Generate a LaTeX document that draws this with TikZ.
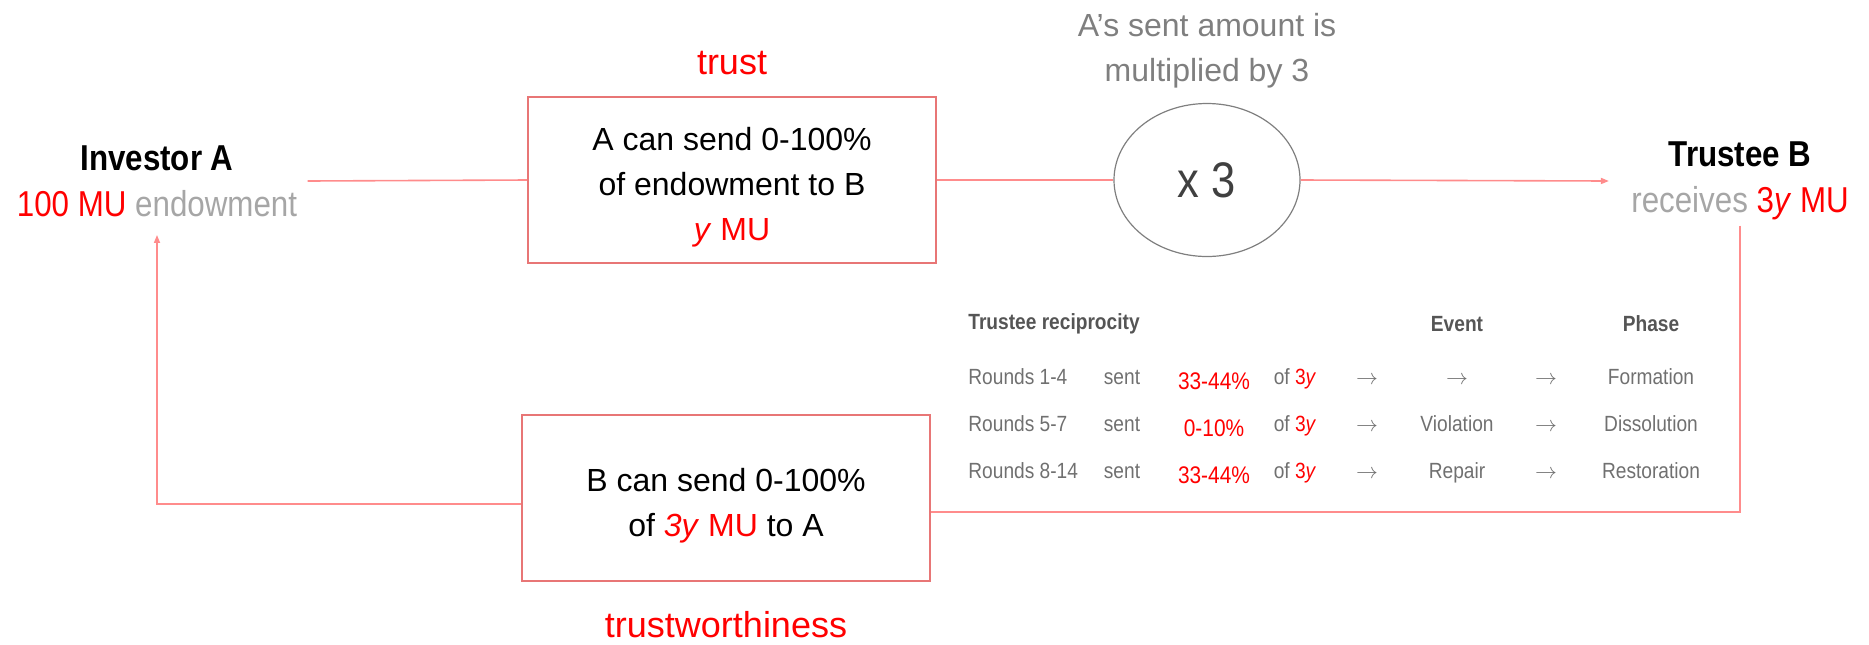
\documentclass[tikz,border=0pt]{standalone}
\usepackage{fontspec}
\setmainfont{Liberation Sans}
\newfontfamily\narrowsf{Liberation Sans}[FakeStretch=0.87]
\usetikzlibrary{positioning,shapes.geometric,arrows.meta}
\definecolor{linered}{RGB}{255,140,140}
\definecolor{boxred}{RGB}{232,118,118}
\definecolor{lightgrey}{RGB}{166,166,166}
\definecolor{midgrey}{RGB}{127,127,127}
\definecolor{tablegrey}{RGB}{112,112,112}
\definecolor{headgrey}{RGB}{85,85,85}
\definecolor{darkgrey}{RGB}{64,64,64}
\newcommand{\setfs}[2]{\fontsize{#1}{#2}\selectfont}
\newcommand{\tarrow}{$\rightarrow$}
\newcommand{\topgap}{\rule{0pt}{19pt}}

\begin{document}
\begin{tikzpicture}[x=0.5pt,y=-0.5pt,
						party/.style={align=center,font=\narrowsf\setfs{18}{23}},
						gamebox/.style={draw=boxred,line width=1pt,minimum width=204pt,minimum height=83pt,align=center,font=\setfs{16}{22.5}},
						mult/.style={ellipse,draw=midgrey,line width=0.6pt,minimum width=93pt,minimum height=76.5pt,inner sep=0pt,text=darkgrey,font=\narrowsf\setfs{25}{25}},
						redlabel/.style={inner sep=0pt,text=red,font=\setfs{18}{18}},
						note/.style={inner sep=0pt,align=center,text=midgrey,font=\setfs{16}{22.5}},
						tabhead/.style={inner sep=0pt,text=headgrey,font=\narrowsf\bfseries\setfs{11}{11}},
						tabcell/.style={inner sep=0pt,text height=8pt,text depth=2pt,text=tablegrey,font=\narrowsf\setfs{11}{11}},
						link/.style={draw=linered,line width=0.8pt}]
		\useasboundingbox (0,0) rectangle (1869,644);

		\node[party,inner xsep=5pt,inner ysep=9pt]		(invA)	at (157,181)	{\bfseries Investor A\\\textcolor{red}{100 MU} \textcolor{lightgrey}{endowment}};
		\node[party,inner xsep=11pt,inner ysep=2.5pt]	(trB)	at (1740,181)	{\bfseries Trustee B\\\textcolor{lightgrey}{receives} \textcolor{red}{3\textit{y} MU}};
		\node[gamebox]		(boxA)	at (732,180)	{\topgap A can send 0-100\%\\of endowment to B\\\textcolor{red}{\textit{y} MU}};
		\node[gamebox]		(boxB)	at (726,498)	{\topgap B can send 0-100\%\\of \textcolor{red}{\textit{3y} MU} to A};
		\node[mult]			(ell)	at (1207,180)	{x 3};
		\node[redlabel,above=10.5pt of boxA]	(trust)		{trust};
		\node[redlabel,below=14.5pt of boxB]	(worthy)	{trustworthiness};
		\node[note,above=7pt of ell]			(mulNote)	{A's sent amount is\\multiplied by 3};

		\node[tabhead,anchor=west]	(recHead)	at (968,324)	{Trustee reciprocity};
		\node[tabhead]				(evtHead)	at (1457,324)	{Event};
		\node[tabhead]				(phsHead)	at (1651,324)	{Phase};
		\foreach \rnd/\pct/\evt/\phs [count=\i] in {1-4/33-44\%/\tarrow/Formation,5-7/0-10\%/Violation/Dissolution,8-14/33-44\%/Repair/Restoration}{
			\pgfmathsetmacro\ry{331+47*\i}
			\node[tabcell,anchor=west]	(rnd\i)	at (968,\ry)	{Rounds \rnd};
			\node[tabcell]				(sent\i)	at (1122,\ry)	{sent};
			\node[tabcell,text=red,font=\narrowsf\setfs{12}{12}]	(pct\i)	at (1214,\ry+5)	{\pct};
			\node[tabcell]				(of\i)	at (1295,\ry)	{of \textcolor{red}{3\textit{y}}};
			\node[tabcell]				(arA\i)	at (1367,\ry)	{\tarrow};
			\node[tabcell]				(evt\i)	at (1457,\ry)	{\evt};
			\node[tabcell]				(arB\i)	at (1546,\ry)	{\tarrow};
			\node[tabcell]				(phs\i)	at (1651,\ry)	{\phs};
		}

		\draw[link] (invA.east) -- (boxA.west);
		\draw[link] (boxA.east) -- (ell.west);
		\draw[link,-{Triangle[length=4pt,width=3pt]}] (ell.east) -- (trB.west);
		\draw[link] (trB.south) |- ([yshift=-7pt]boxB.east);
		\draw[link,-{Triangle[length=4pt,width=3pt]}] ([yshift=-3pt]boxB.west) -| (invA.south);
	\end{tikzpicture}
\end{document}
